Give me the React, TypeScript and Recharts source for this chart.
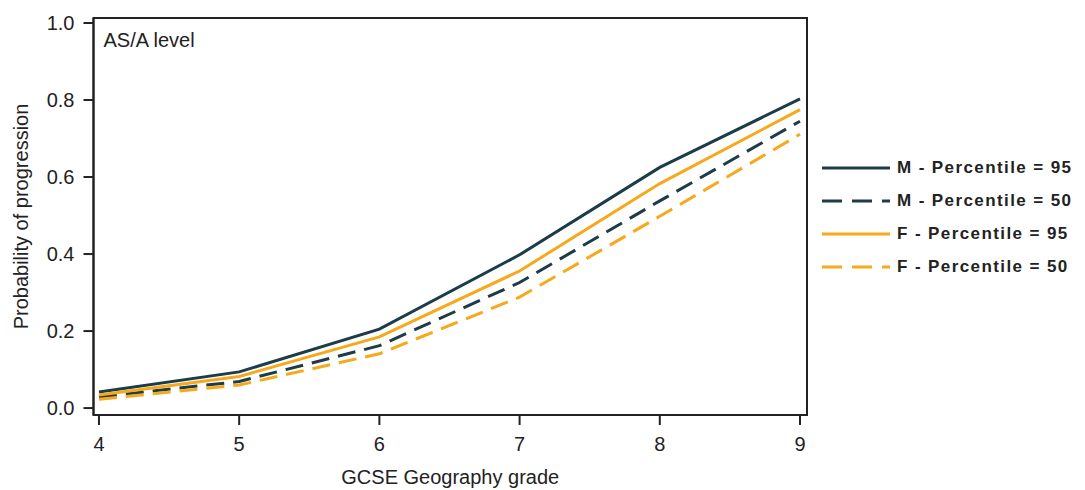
import React from 'react';
import { LineChart, Line, XAxis, YAxis, ReferenceArea } from 'recharts';

const grades = [4, 5, 6, 7, 8, 9];
const m95 = [0.042, 0.094, 0.205, 0.398, 0.625, 0.803];
const m50 = [0.029, 0.069, 0.162, 0.326, 0.538, 0.745];
const f95 = [0.034, 0.082, 0.185, 0.356, 0.583, 0.775];
const f50 = [0.023, 0.060, 0.141, 0.288, 0.498, 0.711];
const xTicks = [4, 5, 6, 7, 8, 9];
const yTicks = [0, 0.2, 0.4, 0.6, 0.8, 1.0];
const seriesNames = ['M - Percentile = 95', 'M - Percentile = 50', 'F - Percentile = 95', 'F - Percentile = 50'];

const data = grades.map((g, i) => ({ grade: g, m95: m95[i], m50: m50[i], f95: f95[i], f50: f50[i] }));

const DARK = '#1c3c48';
const ORANGE = '#f7a81b';
const FONT = '"Liberation Sans", Arial, sans-serif';
const TEXT = '#222';

const series = [
  { key: 'm95', color: DARK, dash: undefined as string | undefined },
  { key: 'm50', color: DARK, dash: '18 9' },
  { key: 'f95', color: ORANGE, dash: undefined as string | undefined },
  { key: 'f50', color: ORANGE, dash: '18 9' },
];

const YTitle = (props: any) => {
  const vb = props.viewBox || { x: 0, y: 0, width: 0, height: 0 };
  const x = vb.x + 28;
  const y = vb.y + vb.height / 2;
  return (
    <text x={x} y={y} transform={`rotate(-90 ${x} ${y})`} textAnchor="middle" fontSize={20} fill={TEXT} fontFamily={FONT}>
      Probability of progression
    </text>
  );
};

export default function App() {
  return (
    <div style={{ position: 'absolute', left: 0, top: 0, width: 1085, height: 490, background: '#fff', fontFamily: FONT }}>
      <LineChart width={1085} height={490} data={data} margin={{ top: 18, right: 278, bottom: 0, left: 0 }}>
        <XAxis
          dataKey="grade"
          type="number"
          domain={[3.961, 9.05]}
          ticks={xTicks}
          allowDataOverflow
          height={75}
          tickSize={10}
          tickMargin={12}
          stroke={TEXT}
          strokeWidth={2}
          tick={{ fontSize: 20, fill: TEXT, fontFamily: FONT }}
          label={{ value: 'GCSE Geography grade', position: 'insideBottom', offset: 6, fontSize: 20, fill: TEXT, fontFamily: FONT }}
        />
        <YAxis
          type="number"
          domain={[-0.018, 1.013]}
          ticks={yTicks}
          allowDataOverflow
          width={93.5}
          tickSize={10}
          tickMargin={9}
          stroke={TEXT}
          strokeWidth={2}
          tickFormatter={(v: number) => v.toFixed(1)}
          tick={{ fontSize: 20, fill: TEXT, fontFamily: FONT }}
          label={<YTitle />}
        />
        <ReferenceArea
          x1={3.961}
          x2={9.05}
          y1={-0.018}
          y2={1.013}
          fill="none"
          stroke={TEXT}
          strokeWidth={2}
          ifOverflow="visible"
          label={{ value: 'AS/A level', position: 'insideTopLeft', offset: 10, dy: 5, fontSize: 20, fill: TEXT, fontFamily: FONT }}
        />
        {series.map((s) => (
          <Line
            key={s.key}
            dataKey={s.key}
            stroke={s.color}
            strokeWidth={3}
            strokeDasharray={s.dash}
            dot={false}
            activeDot={false}
            isAnimationActive={false}
            type="linear"
          />
        ))}
      </LineChart>
      <div style={{ position: 'absolute', left: 820, top: 151, width: 265 }}>
        {series.map((s, i) => (
          <div key={s.key} style={{ display: 'flex', alignItems: 'center', height: 33 }}>
            <svg width={72} height={10} style={{ display: 'block' }}>
              <line x1={2} y1={5} x2={70} y2={5} stroke={s.color} strokeWidth={3} strokeDasharray={s.dash ? '20 10' : undefined} />
            </svg>
            <span style={{ marginLeft: 5, fontSize: 17, fontWeight: 'bold', letterSpacing: 1.4, color: TEXT, whiteSpace: 'nowrap' }}>
              {seriesNames[i]}
            </span>
          </div>
        ))}
      </div>
    </div>
  );
}
